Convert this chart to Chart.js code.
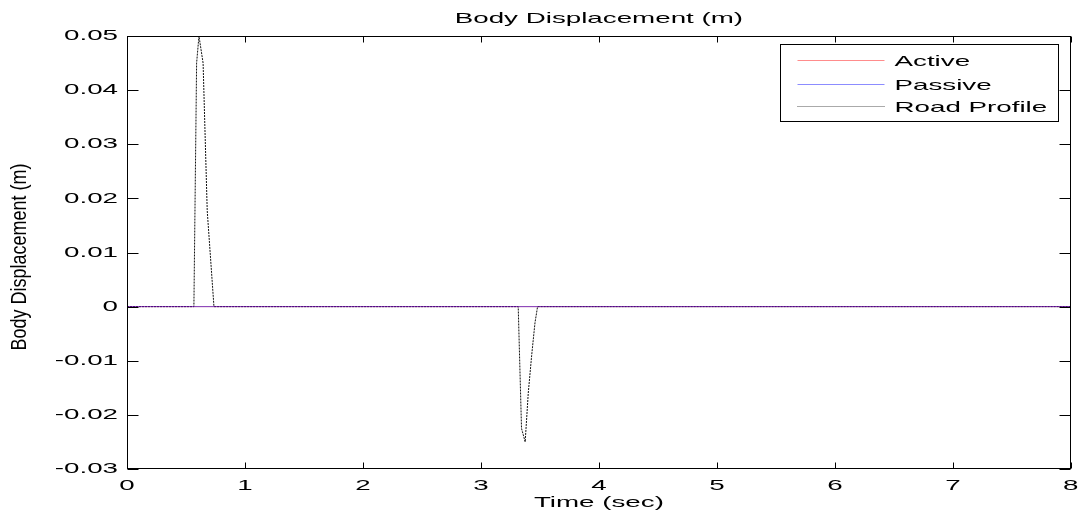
<!DOCTYPE html>
<html lang="en">
<head>
<meta charset="UTF-8">
<title>Body Displacement (m)</title>
<style>
    body {
        margin: 0;
        background: #fff;
    }
</style>
</head>
<body>
<canvas id="chart" width="1083" height="519"></canvas>

<script src="https://cdn.jsdelivr.net/npm/chart.js"></script>
<script>
    // Road profile (two bumps) sampled off the plot
    const timeRoad = [0, 0.567, 0.59, 0.61, 0.645, 0.68, 0.737, 3.316, 3.344, 3.375, 3.401, 3.43, 3.458, 3.48, 8];
    const roadProfile = [0, 0, 0.045, 0.05, 0.045, 0.0177, 0, 0, -0.0225, -0.025, -0.016, -0.009, -0.003, 0, 0];

    // Active / passive responses sit on zero for the whole run
    const timeSim = [0, 8];
    const activeDisp = [0, 0];
    const passiveDisp = [0, 0];

    const xTicks = [0, 1, 2, 3, 4, 5, 6, 7, 8];
    const yTicks = [-0.03, -0.02, -0.01, 0, 0.01, 0.02, 0.03, 0.04, 0.05];

    const FONT = "'Liberation Sans', Arial, Helvetica, sans-serif";
    const STRETCH = 1.85;   // the original figure was widened, text glyphs included
    const toPoints = (xs, ys) => xs.map((x, i) => ({ x: x, y: ys[i] }));

    // widen every glyph around its anchor point, like the stretched original
    function stretchText(ctx) {
        if (ctx._origFillText) return;
        const orig = ctx.fillText.bind(ctx);
        ctx._origFillText = orig;
        ctx.fillText = function (text, x, y, maxWidth) {
            this.save();
            this.translate(x, y);
            this.scale(STRETCH, 1);
            if (maxWidth !== undefined) orig(text, 0, 0, maxWidth / STRETCH);
            else orig(text, 0, 0);
            this.restore();
        };
    }

    // Frame, inward ticks, y title and legend, drawn MATLAB style
    const matlabFrame = {
        id: 'matlabFrame',
        beforeDraw(chart) {
            stretchText(chart.ctx);
        },
        afterDraw(chart) {
            const { ctx, chartArea: a, scales } = chart;
            ctx.save();
            ctx.strokeStyle = '#000';
            ctx.lineWidth = 1;

            const L = Math.round(a.left) + 0.5, R = Math.round(a.right) - 0.5;
            const T = Math.round(a.top) + 0.5, B = Math.round(a.bottom) - 0.5;
            ctx.strokeRect(L, T, R - L, B - T);

            ctx.beginPath();
            scales.y.ticks.forEach(t => {
                const y = Math.round(scales.y.getPixelForValue(t.value)) + 0.5;
                ctx.moveTo(L, y); ctx.lineTo(L + 11, y);
                ctx.moveTo(R, y); ctx.lineTo(R - 11, y);
            });
            scales.x.ticks.forEach(t => {
                const x = Math.round(scales.x.getPixelForValue(t.value)) + 0.5;
                ctx.moveTo(x, B); ctx.lineTo(x, B - 6);
                ctx.moveTo(x, T); ctx.lineTo(x, T + 6);
            });
            ctx.stroke();

            // y axis title, squeezed along its baseline like the original
            ctx.save();
            ctx.font = '22px ' + FONT;
            ctx.fillStyle = '#000';
            ctx.textAlign = 'center';
            ctx.textBaseline = 'middle';
            const yTitle = 'Body Displacement (m)';
            const w = ctx.measureText(yTitle).width;
            ctx.translate(20, 257);
            ctx.rotate(-Math.PI / 2);
            ctx.scale(187 / w, 1);
            ctx._origFillText(yTitle, 0, 0);
            ctx.restore();

            // legend box
            const bx = Math.round(a.right) - 291 + 0.5, by = Math.round(a.top) + 8.5;
            const bw = 278, bh = 77;
            ctx.fillStyle = '#fff';
            ctx.fillRect(bx, by, bw, bh);
            ctx.strokeRect(bx, by, bw, bh);
            const rowY = [15, 39.5, 61.5];
            ctx.font = '15px ' + FONT;
            ctx.textAlign = 'left';
            ctx.textBaseline = 'middle';
            chart.data.datasets.forEach((ds, i) => {
                const y = Math.round(by + rowY[i]) + 0.5;
                ctx.save();
                ctx.strokeStyle = ds.legendColor || ds.borderColor;
                ctx.setLineDash(ds.legendDash || ds.borderDash || []);
                ctx.beginPath();
                ctx.moveTo(bx + 17, y);
                ctx.lineTo(bx + 104, y);
                ctx.stroke();
                ctx.restore();
                ctx.fillStyle = '#000';
                ctx.fillText(ds.label, bx + 114, y + 1);
            });
            ctx.restore();
        }
    };

    new Chart(document.getElementById('chart'), {
        type: 'line',
        data: {
            datasets: [
                {
                    label: 'Active',
                    data: toPoints(timeSim, activeDisp),
                    borderColor: 'rgba(255, 0, 0, 0.55)',
                    legendColor: 'rgba(255, 0, 0, 0.45)',
                    borderWidth: 1,
                    order: 2
                },
                {
                    label: 'Passive',
                    data: toPoints(timeSim, passiveDisp),
                    borderColor: 'rgba(0, 0, 255, 0.5)',
                    legendColor: 'rgba(0, 0, 255, 0.45)',
                    borderWidth: 1,
                    order: 1
                },
                {
                    label: 'Road Profile',
                    data: toPoints(timeRoad, roadProfile),
                    borderColor: '#111',
                    legendColor: '#555',
                    legendDash: [1, 1],
                    borderWidth: 1,
                    borderDash: [2, 1],
                    order: 3
                }
            ]
        },
        options: {
            responsive: false,
            animation: false,
            devicePixelRatio: 1,
            layout: { padding: { left: 0, right: 12, top: 0, bottom: 0 } },
            elements: {
                point: { radius: 0 },
                line: { tension: 0, fill: false }
            },
            plugins: {
                legend: { display: false },
                tooltip: { enabled: false }
            },
            scales: {
                x: {
                    type: 'linear',
                    position: 'bottom',
                    min: 0,
                    max: 8,
                    afterBuildTicks: s => { s.ticks = xTicks.map(v => ({ value: v })); },
                    afterFit: s => { s.height = 50; },
                    grid: { display: false, drawTicks: false },
                    border: { display: false },
                    ticks: {
                        font: { family: FONT, size: 15 },
                        color: '#000',
                        padding: 8,
                        autoSkip: false,
                        maxRotation: 0,
                        callback: v => String(v)
                    },
                    title: {
                        display: true,
                        text: 'Time (sec)',
                        color: '#000',
                        font: { family: FONT, size: 15 },
                        padding: { top: 0, bottom: 7 }
                    }
                },
                x2: {
                    type: 'linear',
                    position: 'top',
                    display: true,
                    min: 0,
                    max: 8,
                    afterFit: s => { s.height = 36; },
                    grid: { display: false, drawTicks: false },
                    border: { display: false },
                    ticks: { display: false },
                    title: {
                        display: true,
                        text: 'Body Displacement (m)',
                        color: '#000',
                        font: { family: FONT, size: 15 },
                        padding: { top: 10, bottom: 0 }
                    }
                },
                y: {
                    type: 'linear',
                    position: 'left',
                    min: -0.03,
                    max: 0.05,
                    afterBuildTicks: s => { s.ticks = yTicks.map(v => ({ value: v })); },
                    afterFit: s => { s.width = 127; },
                    grid: { display: false, drawTicks: false },
                    border: { display: false },
                    ticks: {
                        font: { family: FONT, size: 15 },
                        color: '#000',
                        padding: 9,
                        autoSkip: false,
                        callback: v => String(v)
                    }
                }
            }
        },
        plugins: [matlabFrame]
    });
</script>
</body>
</html>
